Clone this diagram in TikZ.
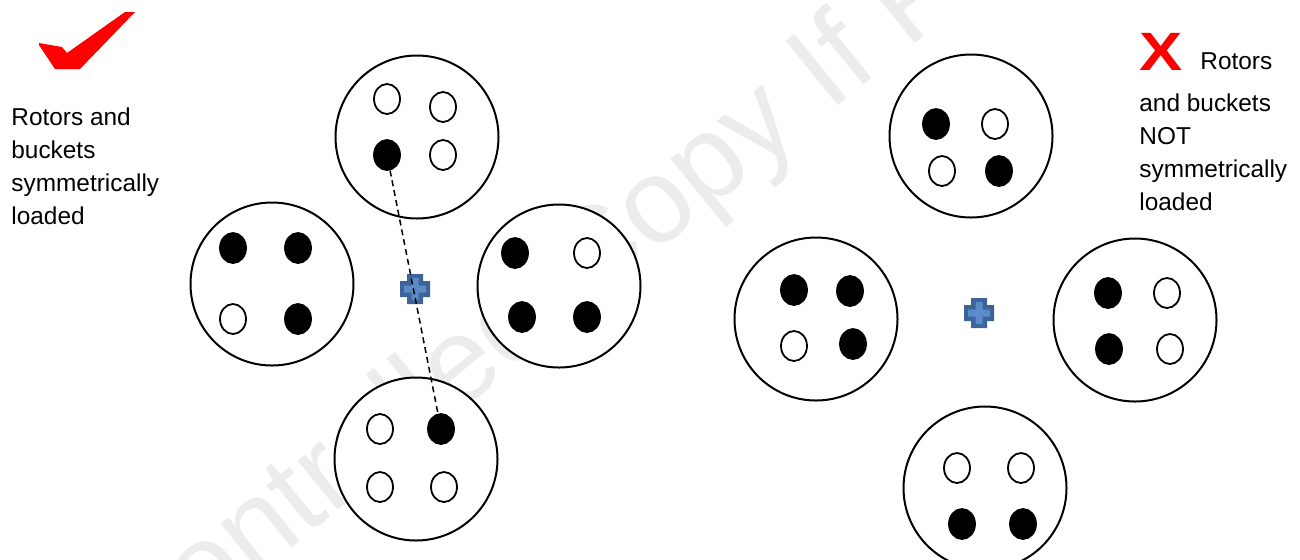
\documentclass[tikz,border=0pt]{standalone}
\usepackage{fontspec}
\setmainfont{Liberation Sans}
\usepackage{graphicx}
\usepackage{tikz}
\usetikzlibrary{shapes.geometric}
\definecolor{hubdark}{HTML}{3D6499}
\definecolor{hublight}{HTML}{5B8BC8}
\definecolor{markred}{HTML}{FF0000}
\tikzset{
  rotor/.style={circle, draw, fill=white, line width=1pt, minimum size=81.5pt, inner sep=0pt},
  bucket/.style={ellipse, draw, line width=0.9pt, minimum width=13pt, minimum height=15pt, inner sep=0pt},
  tfull/.style={bucket, fill=black},
  tempty/.style={bucket, fill=white},
  lbl/.style={align=left, inner sep=0pt, font=\fontsize{12.2}{16.6}\selectfont}
}

\begin{document}
\begin{tikzpicture}[x=0.5pt, y=-0.5pt]
\useasboundingbox (0,0) rectangle (1300,559);
% watermark
\begin{scope}
  \clip (0,0) rectangle (1300,559);
  \node[rotate=39, text=gray!15, font=\fontsize{60}{60}\selectfont] (wm) at (600,258) {Uncontrolled Copy If Printed};
\end{scope}

% rotors, symmetric side
\node[rotor] (lt) at (417,137) {};
\node[rotor] (ll) at (272,284) {};
\node[rotor] (lr) at (559,286) {};
\node[rotor] (lb) at (416,459) {};
% rotors, unbalanced side
\node[rotor] (rt) at (971,136) {};
\node[rotor] (rl) at (816,319) {};
\node[rotor] (rr) at (1135,320) {};
\node[rotor] (rb) at (985,488) {};

% buckets
\foreach \n/\s/\x/\y in {
  lt1/tempty/387/99, lt2/tempty/443/107, lt3/tfull/387/155, lt4/tempty/443/155,
  ll1/tfull/233/248, ll2/tfull/298/248, ll3/tempty/233/319, ll4/tfull/298/319,
  lr1/tfull/515/253, lr2/tempty/587/253, lr3/tfull/522/317, lr4/tfull/587/317,
  lb1/tempty/380/429, lb2/tfull/441/429, lb3/tempty/380/487, lb4/tempty/444/487,
  rt1/tfull/936/124, rt2/tempty/995/124, rt3/tempty/942/171, rt4/tfull/999/171,
  rl1/tfull/794/290, rl2/tfull/850/291, rl3/tempty/794/346, rl4/tfull/853/344,
  rr1/tfull/1108/293, rr2/tempty/1167/293, rr3/tfull/1109/349, rr4/tempty/1170/349,
  rb1/tempty/957/468, rb2/tempty/1021/468, rb3/tfull/962/524, rb4/tfull/1023/524}
  \node[\s] (\n) at (\x,\y) {};

% spindle marks
\foreach \hx/\hy in {415/289, 979/313} {
  \begin{scope}[shift={(\hx,\hy)}]
    \fill[hubdark] (-8,-15) rectangle (8,15) (-15,-8) rectangle (15,8);
    \fill[hublight] (-3.5,-11) rectangle (3.5,11) (-11,-3.5) rectangle (11,3.5);
  \end{scope}
}

\draw[dash pattern=on 3pt off 2pt, line width=0.75pt] (lt3) -- (lb2);

% tick and cross
\fill[markred] (39,43) -- (62,47) -- (67,53) -- (125,12) -- (135,12) -- (80,69) -- (55,69) -- (39,45) -- cycle;
\node[anchor=base west, inner sep=0pt, text=markred, font=\bfseries\fontsize{27}{27}\selectfont] (nomark) at (1139,70) {\scalebox{1.2}[1]{X}};

% labels
\node[lbl, anchor=north west] (oktxt) at (11,107) {Rotors and\\buckets\\symmetrically\\loaded};
\node[lbl, anchor=base west] (notxt1) at (1200,69) {Rotors};
\node[lbl, anchor=north west] (notxt2) at (1139,93) {and buckets\\NOT\\symmetrically\\loaded};
\end{tikzpicture}
\end{document}
